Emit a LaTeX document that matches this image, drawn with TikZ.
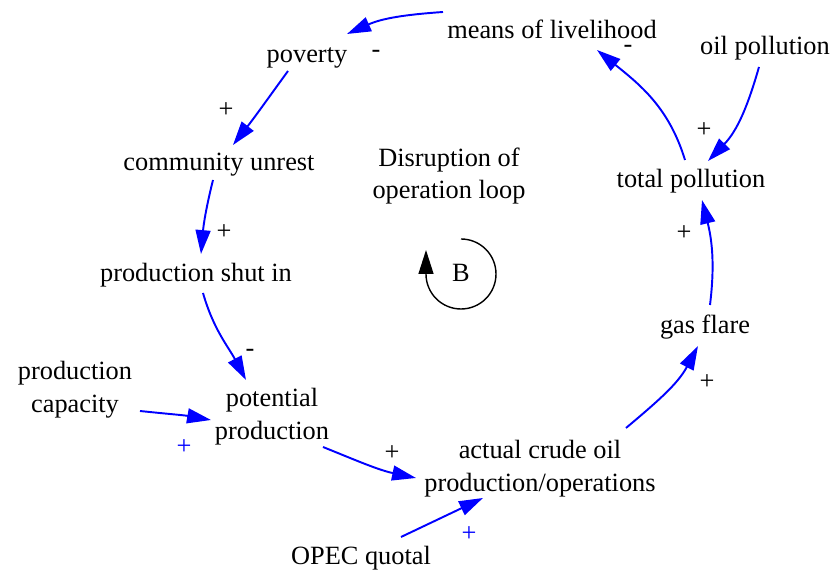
\documentclass[tikz,border=0pt]{standalone}
\usepackage{fontspec}
\setmainfont{Liberation Serif}
\usetikzlibrary{arrows.meta}

\begin{document}
\begin{tikzpicture}[x=0.02cm, y=0.02cm,
	var/.style={font=\fontsize{15}{18.7}\selectfont, align=center, inner sep=0pt},
	sign/.style={font=\fontsize{15}{18.7}\selectfont, inner sep=0pt},
	link/.style={blue, line width=1.1pt, -{Triangle[length=13.6pt, width=8.5pt]}},
	loopline/.style={black, line width=0.8pt, -{Triangle[length=13.6pt, width=8.5pt]}}]
	
	\useasboundingbox (0,0) rectangle (833,-573);
	
	% variables of the loop
	\node[var, anchor=base] (means) at (552,-39) {means of livelihood};
	\node[var, anchor=base] (poverty) at (307,-63) {poverty};
	\node[var, anchor=base] (unrest) at (219,-171) {community unrest};
	\node[var, anchor=base] (shutin) at (196,-282) {production shut in};
	\node[var] (potential) at (272,-417) {potential\\production};
	\node[var] (actual) at (540,-469) {actual crude oil\\production/operations};
	\node[var, anchor=base] (gasflare) at (705,-334) {gas flare};
	\node[var, anchor=base] (total) at (691,-188) {total pollution};
	
	% outside variables
	\node[var, anchor=base] (oilpol) at (765,-55) {oil pollution};
	\node[var] (capacity) at (75,-390) {production\\capacity};
	\node[var, anchor=base] (opec) at (361,-565) {OPEC quotal};
	
	% loop name
	\node[var] (loopname) at (449,-176) {Disruption of\\operation loop};
	\node[var, anchor=base] (bal) at (461,-282) {B};
	\draw[loopline] (461,-239) arc[start angle=90, end angle=-180, radius=35] -- (426,-250);
	
	% links round the loop
	\draw[link] ([shift={(-109,27)}]means.base) to[out=184, in=24] ([shift={(40,29)}]poverty.base);
	\draw[link] ([shift={(-19,-8)}]poverty.base) to[out=-126, in=52] ([shift={(14,26)}]unrest.base);
	\draw[link] ([shift={(-6,-9)}]unrest.base) to[out=-104, in=85] ([shift={(5,28)}]shutin.base);
	\draw[link] ([shift={(7,-11)}]shutin.base) to[out=-74, in=118] ([shift={(-26,37)}]potential.center);
	\draw[link] ([shift={(51,-30)}]potential.center) to[out=-22, in=168] ([shift={(-124,-9)}]actual.center);
	\draw[link] ([shift={(86,41)}]actual.center) to[out=40, in=-118] ([shift={(-7,-12)}]gasflare.base);
	\draw[link] ([shift={(5,29)}]gasflare.base) to[out=83, in=-76] ([shift={(11,-12)}]total.base);
	\draw[link] ([shift={(-6,28)}]total.base) to[out=107, in=-39] ([shift={(45,-11)}]means.base);
	
	% links from outside
	\draw[link] ([shift={(-6,-12)}]oilpol.base) to[out=-106, in=46] ([shift={(17,27)}]total.base);
	\draw[link] ([shift={(65,-21)}]capacity.center) to[out=-6, in=170] ([shift={(-61,-3)}]potential.center);
	\draw[link] ([shift={(40,28)}]opec.base) -- ([shift={(-57,-29)}]actual.center);
	
	% polarities
	\node[sign] (s1) at (376,-54) {-};
	\node[sign] (s2) at (226,-110) {+};
	\node[sign] (s3) at (224,-232) {+};
	\node[sign] (s4) at (250,-353) {-};
	\node[sign] (s5) at (392,-453) {+};
	\node[sign] (s6) at (707,-382) {+};
	\node[sign] (s7) at (684,-233) {+};
	\node[sign] (s8) at (628,-49) {-};
	\node[sign] (s9) at (704,-130) {+};
	\node[sign, blue] (s10) at (184,-447) {+};
	\node[sign, blue] (s11) at (469,-534) {+};
	
\end{tikzpicture}
\end{document}
